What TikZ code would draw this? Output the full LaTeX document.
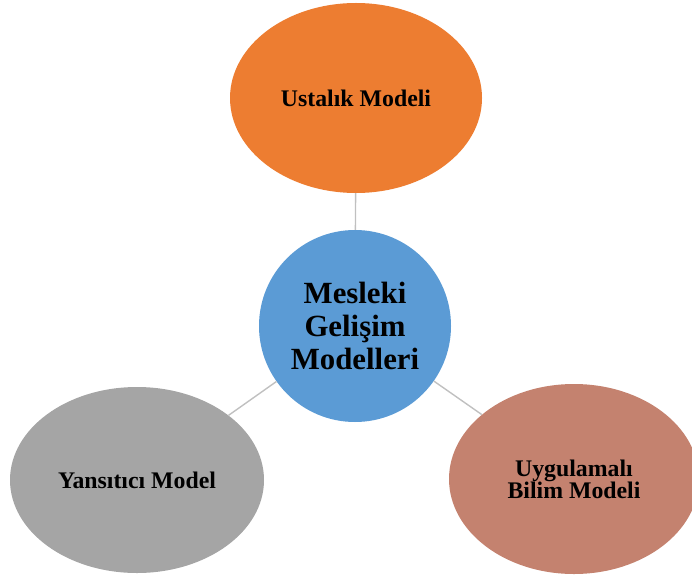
\documentclass[tikz,border=0pt]{standalone}
\usepackage{fontspec}
\setmainfont{Liberation Serif}
\usetikzlibrary{shapes.geometric}
\definecolor{ustalik}{HTML}{ED7D31}
\definecolor{merkez}{HTML}{5B9BD5}
\definecolor{yansitici}{HTML}{A5A5A5}
\definecolor{uygulamali}{HTML}{C4826F}
\definecolor{baglanti}{HTML}{C0C0C0}
\tikzset{
  model/.style={ellipse, draw=none, inner sep=0pt, align=center,
    minimum width=252pt, minimum height=190pt,
    font=\bfseries\fontsize{23.8}{22}\selectfont},
  hub/.style={circle, fill=merkez, draw=none, inner sep=0pt, align=center,
    minimum size=192pt, font=\bfseries\fontsize{30.8}{33}\selectfont},
  link/.style={draw=baglanti, line width=1.4pt}
}
\begin{document}
\begin{tikzpicture}[x=1pt,y=-1pt]
  \useasboundingbox (0,0) rectangle (692,580);
  \node[hub] (hub) at (355,326) {Mesleki\\Gelişim\\Modelleri};
  \node[model, fill=ustalik] (ust) at (356,98) {Ustalık Modeli};
  \node[model, fill=yansitici, minimum width=254pt, minimum height=186pt] (yan) at (137,480) {Yansıtıcı Model};
  \node[model, fill=uygulamali, minimum width=250pt] (uyg) at (574,479) {Uygulamalı\\Bilim Modeli};
  \draw[link] (hub) -- (ust);
  \draw[link] (hub) -- (yan);
  \draw[link] (hub) -- (uyg);
\end{tikzpicture}
\end{document}
